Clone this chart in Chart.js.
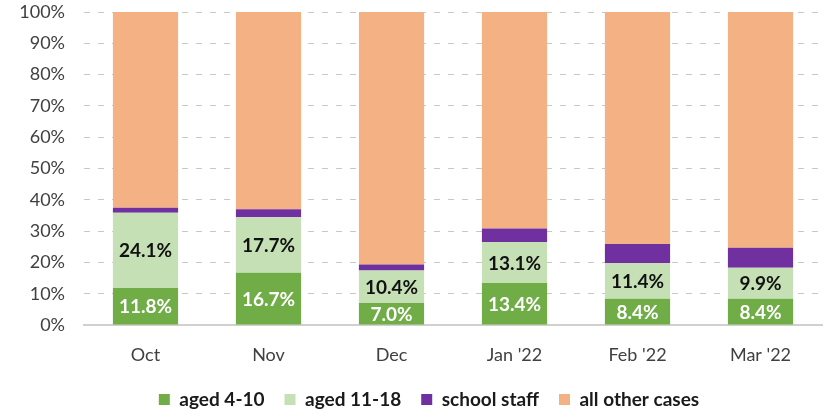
<!DOCTYPE html>
<html>
<head>
<meta charset="utf-8">
<script src="https://cdn.jsdelivr.net/npm/chart.js@4/dist/chart.umd.min.js"></script>
<style>
  html, body { margin: 0; padding: 0; background: #fff; }
  #wrap { width: 827px; height: 412px; }
</style>
</head>
<body>
<div id="wrap"><canvas id="chart"></canvas></div>
<script>
const months = ['Oct', 'Nov', 'Dec', "Jan '22", "Feb '22", "Mar '22"];
const aged4to10 = [11.8, 16.7, 7.0, 13.4, 8.4, 8.4];
const aged11to18 = [24.1, 17.7, 10.4, 13.1, 11.4, 9.9];
const schoolStaff = [1.6, 2.6, 1.9, 4.3, 6.1, 6.4];
const otherCases = [62.5, 63.0, 80.7, 69.2, 74.1, 75.3];
const yTicks = [0, 10, 20, 30, 40, 50, 60, 70, 80, 90, 100];

const FONT = 'Lato, "Open Sans", sans-serif';

// draws the value labels centred in the two green segments
const segmentLabels = {
    id: 'segmentLabels',
    afterDatasetsDraw(chart) {
        const ctx = chart.ctx;
        ctx.save();
        ctx.font = 'bold 19px ' + FONT;
        ctx.textAlign = 'center';
        ctx.textBaseline = 'middle';
        [0, 1].forEach(function(di) {
            const meta = chart.getDatasetMeta(di);
            const ds = chart.data.datasets[di];
            meta.data.forEach(function(bar, i) {
                const y = (bar.y + bar.base) / 2;
                ctx.fillStyle = di === 0 ? '#ffffff' : '#111111';
                ctx.fillText(ds.data[i].toFixed(1) + '%', bar.x, y + 1);
            });
        });
        ctx.restore();
    }
};

// the original legend sits a bit right of centre
const legendShift = {
    id: 'legendShift',
    afterLayout(chart) {
        if (chart.legend) {
            chart.legend.left += 18;
            chart.legend.right += 18;
        }
    }
};

const ctx = document.getElementById('chart').getContext('2d');
new Chart(ctx, {
    type: 'bar',
    data: {
        labels: months,
        datasets: [
            { label: 'aged 4-10', data: aged4to10, backgroundColor: '#70AD47' },
            { label: 'aged 11-18', data: aged11to18, backgroundColor: '#C5E0B4' },
            { label: 'school staff', data: schoolStaff, backgroundColor: '#7030A0' },
            { label: 'all other cases', data: otherCases, backgroundColor: '#F4B183' }
        ]
    },
    options: {
        responsive: true,
        maintainAspectRatio: false,
        animation: false,
        datasets: {
            bar: { barPercentage: 0.53, categoryPercentage: 1.0 }
        },
        layout: { padding: { top: 12, right: 5, left: 0, bottom: 0 } },
        plugins: {
            tooltip: { enabled: false },
            legend: {
                position: 'bottom',
                maxHeight: 42,
                labels: {
                    boxWidth: 11,
                    boxHeight: 11,
                    padding: 20,
                    color: '#1a1a1a',
                    font: { family: FONT, size: 19, weight: 'bold' }
                }
            }
        },
        scales: {
            x: {
                stacked: true,
                grid: { display: false },
                border: { display: true, color: '#d0d0d0', width: 2 },
                ticks: {
                    color: '#404040',
                    padding: 11,
                    font: { family: FONT, size: 18 }
                },
                afterFit(scale) { scale.height = 45; }
            },
            y: {
                stacked: true,
                min: 0,
                max: 100,
                afterBuildTicks(scale) {
                    scale.ticks = yTicks.map(v => ({ value: v }));
                },
                afterFit(scale) {
                    scale.width = 84;
                    scale.paddingTop = 0;
                    scale.paddingBottom = 0;
                },
                grid: {
                    color: '#c8c8c8',
                    drawTicks: false
                },
                border: { display: true, width: 0, color: 'rgba(0,0,0,0)', dash: [6, 8] },
                ticks: {
                    color: '#404040',
                    padding: 19,
                    font: { family: FONT, size: 18 },
                    callback: v => v + '%'
                }
            }
        }
    },
    plugins: [segmentLabels, legendShift]
});
</script>
</body>
</html>
